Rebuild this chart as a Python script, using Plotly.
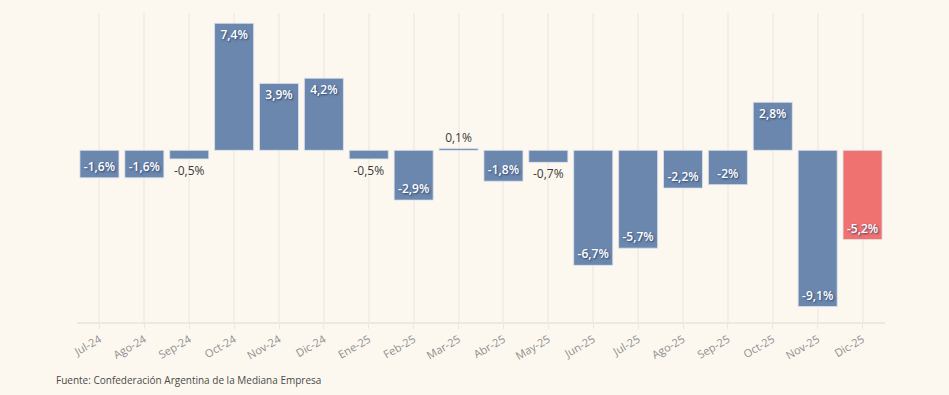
import plotly.graph_objects as go

months = ["Jul-24", "Ago-24", "Sep-24", "Oct-24", "Nov-24", "Dic-24", "Ene-25", "Feb-25", "Mar-25",
          "Abr-25", "May-25", "Jun-25", "Jul-25", "Ago-25", "Sep-25", "Oct-25", "Nov-25", "Dic-25"]
values = [-1.6, -1.6, -0.5, 7.4, 3.9, 4.2, -0.5, -2.9, 0.1, -1.8, -0.7, -6.7, -5.7, -2.2, -2.0, 2.8, -9.1, -5.2]
labels = ["-1,6%", "-1,6%", "-0,5%", "7,4%", "3,9%", "4,2%", "-0,5%", "-2,9%", "0,1%",
          "-1,8%", "-0,7%", "-6,7%", "-5,7%", "-2,2%", "-2%", "2,8%", "-9,1%", "-5,2%"]
source = "Fuente: Confederación Argentina de la Mediana Empresa"

BLUE = "#6482ab"
RED = "#ef6b6b"
BG = "#fdf8ef"
colors = [RED if i == len(values) - 1 else BLUE for i in range(len(values))]
positions = ["inside" if abs(v) >= 1 else "outside" for v in values]

fig = go.Figure()
fig.add_trace(go.Bar(
    x=months, y=values, text=labels,
    textposition=positions,
    insidetextanchor="end",
    textangle=0,
    cliponaxis=False,
    marker=dict(color=colors, opacity=0.95, line=dict(color="rgba(220,228,240,0.8)", width=1)),
    insidetextfont=dict(family="Open Sans", size=12, color="white", weight=600,
                        shadow="1px 1px 2px rgba(40,60,100,0.9)"),
    outsidetextfont=dict(family="Open Sans", size=12, color="#3a3a3a", weight=500),
    constraintext="none",
    hoverinfo="skip",
))

fig.update_layout(
    width=949, height=395,
    margin=dict(l=77, r=64, t=13, b=73),
    paper_bgcolor=BG, plot_bgcolor=BG,
    bargap=0.13,
    showlegend=False,
    font=dict(family="Open Sans", color="#888888"),
    xaxis=dict(
        type="category", range=[-0.5, 17.5],
        showgrid=True, gridcolor="#f3eee8", gridwidth=1.5,
        showline=True, linecolor="#ece8e2", linewidth=2,
        ticks="outside", tickcolor="#ece8e2", ticklen=5,
        tickangle=-30, tickfont=dict(size=11, color="#8f8f8f"),
        zeroline=False,
    ),
    yaxis=dict(
        range=[-10, 8], visible=False, showgrid=False, zeroline=False,
    ),
    annotations=[dict(
        text=source, xref="paper", yref="paper", x=-0.029, y=-0.16,
        xanchor="left", yanchor="top", showarrow=False,
        font=dict(family="Open Sans", size=10, color="#4a4a4a"),
    )],
)

fig.write_html(
    "out.html",
    config={"displayModeBar": False},
    post_script="document.body.style.margin='0';document.body.style.background='%s';" % BG,
)
